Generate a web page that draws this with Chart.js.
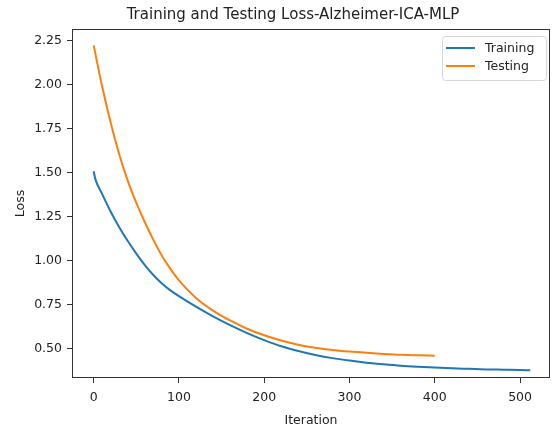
<!DOCTYPE html>
<html>
<head>
<meta charset="utf-8">
<script src="https://cdn.jsdelivr.net/npm/chart.js@4.4.1/dist/chart.umd.min.js"></script>
<style>
  html, body { margin: 0; padding: 0; background: #fff; }
  #wrap { width: 552px; height: 428px; position: relative; }
</style>
</head>
<body>
<div id="wrap"><canvas id="lossChart" width="552" height="428"></canvas></div>
<script>
const chartTitle = "Training and Testing Loss-Alzheimer-ICA-MLP";
const xLabel = "Iteration";
const yLabel = "Loss";

const xTicks = [0, 100, 200, 300, 400, 500];
const yTicks = [0.5, 0.75, 1.0, 1.25, 1.5, 1.75, 2.0, 2.25];

const trainIter = [0, 2, 10, 20, 30, 40, 50, 60, 70, 80, 90, 100, 120, 140, 160, 180, 200, 220, 240, 260, 280, 300, 320, 340, 360, 380, 400, 420, 440, 460, 480, 500, 512];
const trainLoss = [1.51, 1.465, 1.38, 1.28, 1.192, 1.113, 1.042, 0.977, 0.92, 0.872, 0.833, 0.80, 0.74, 0.685, 0.635, 0.59, 0.55, 0.515, 0.488, 0.466, 0.448, 0.434, 0.422, 0.413, 0.405, 0.399, 0.394, 0.390, 0.387, 0.384, 0.382, 0.380, 0.379];

const testIter = [0, 10, 20, 30, 40, 50, 60, 70, 80, 90, 100, 120, 140, 160, 180, 200, 220, 240, 260, 280, 300, 320, 340, 360, 380, 400];
const testLoss = [2.225, 1.99, 1.785, 1.605, 1.455, 1.33, 1.22, 1.12, 1.03, 0.955, 0.89, 0.79, 0.718, 0.662, 0.615, 0.578, 0.548, 0.524, 0.507, 0.494, 0.485, 0.478, 0.472, 0.467, 0.464, 0.462];

const FONT = "'DejaVu Sans', sans-serif";

const toPoints = (xs, ys) => xs.map((x, i) => ({ x: x, y: ys[i] }));

// frame, title and legend drawn like matplotlib
const mplDecor = {
    id: 'mplDecor',
    afterDraw(chart) {
        const ctx = chart.ctx;
        const a = chart.chartArea;
        ctx.save();

        // axes box
        ctx.strokeStyle = '#333';
        ctx.lineWidth = 1;
        ctx.strokeRect(a.left + 0.5, a.top + 0.5, a.right - a.left - 1, a.bottom - a.top - 1);

        // title
        ctx.fillStyle = '#222';
        ctx.font = "15px " + FONT;
        ctx.textAlign = 'center';
        ctx.textBaseline = 'middle';
        ctx.fillText(chartTitle, 293, 15);

        // legend
        const bx = a.right - 108, by = a.top + 7, bw = 104, bh = 44;
        ctx.beginPath();
        ctx.roundRect(bx + 0.5, by + 0.5, bw, bh, 3);
        ctx.fillStyle = 'rgba(255,255,255,0.8)';
        ctx.fill();
        ctx.strokeStyle = '#d6d6d6';
        ctx.stroke();

        ctx.font = "12.5px " + FONT;
        ctx.textAlign = 'left';
        chart.data.datasets.forEach((ds, i) => {
            const y = by + 12 + i * 18;
            ctx.beginPath();
            ctx.strokeStyle = ds.borderColor;
            ctx.lineWidth = 2;
            ctx.moveTo(bx + 4, y);
            ctx.lineTo(bx + 33, y);
            ctx.stroke();
            ctx.fillStyle = '#222';
            ctx.fillText(ds.label, bx + 43, y + 1);
        });
        ctx.restore();
    }
};

new Chart(document.getElementById('lossChart').getContext('2d'), {
    type: 'line',
    data: {
        datasets: [
            {
                label: 'Training',
                data: toPoints(trainIter, trainLoss),
                borderColor: '#1f77b4',
                borderWidth: 2,
                pointRadius: 0,
                cubicInterpolationMode: 'monotone',
                fill: false
            },
            {
                label: 'Testing',
                data: toPoints(testIter, testLoss),
                borderColor: '#ff7f0e',
                borderWidth: 2,
                pointRadius: 0,
                cubicInterpolationMode: 'monotone',
                fill: false
            }
        ]
    },
    options: {
        responsive: false,
        animation: false,
        devicePixelRatio: 1,
        layout: { padding: { left: 0, right: 2, top: 29, bottom: 0 } },
        plugins: {
            legend: { display: false },
            title: { display: false },
            tooltip: { enabled: false }
        },
        scales: {
            x: {
                type: 'linear',
                min: -25.4,
                max: 535.1,
                afterBuildTicks: s => { s.ticks = xTicks.map(v => ({ value: v })); },
                afterFit: s => { s.height = 50; },
                grid: { drawOnChartArea: false, drawTicks: true, tickLength: 5, color: '#333' },
                border: { display: false },
                ticks: {
                    color: '#222',
                    padding: 7,
                    maxRotation: 0,
                    font: { family: FONT, size: 12.5 },
                    callback: v => String(v)
                },
                title: {
                    display: true,
                    text: xLabel,
                    color: '#222',
                    font: { family: FONT, size: 12.5 },
                    padding: { top: 0, bottom: 0 }
                }
            },
            y: {
                type: 'linear',
                min: 0.335,
                max: 2.318,
                afterBuildTicks: s => { s.ticks = yTicks.map(v => ({ value: v })); },
                afterFit: s => { s.width = 72; },
                grid: { drawOnChartArea: false, drawTicks: true, tickLength: 5, color: '#333' },
                border: { display: false },
                ticks: {
                    color: '#222',
                    padding: 5,
                    font: { family: FONT, size: 12.5 },
                    callback: v => Number(v).toFixed(2)
                },
                title: {
                    display: true,
                    text: yLabel,
                    color: '#222',
                    font: { family: FONT, size: 12.5 },
                    padding: { top: 13, bottom: 0 }
                }
            }
        }
    },
    plugins: [mplDecor]
});
</script>
</body>
</html>
